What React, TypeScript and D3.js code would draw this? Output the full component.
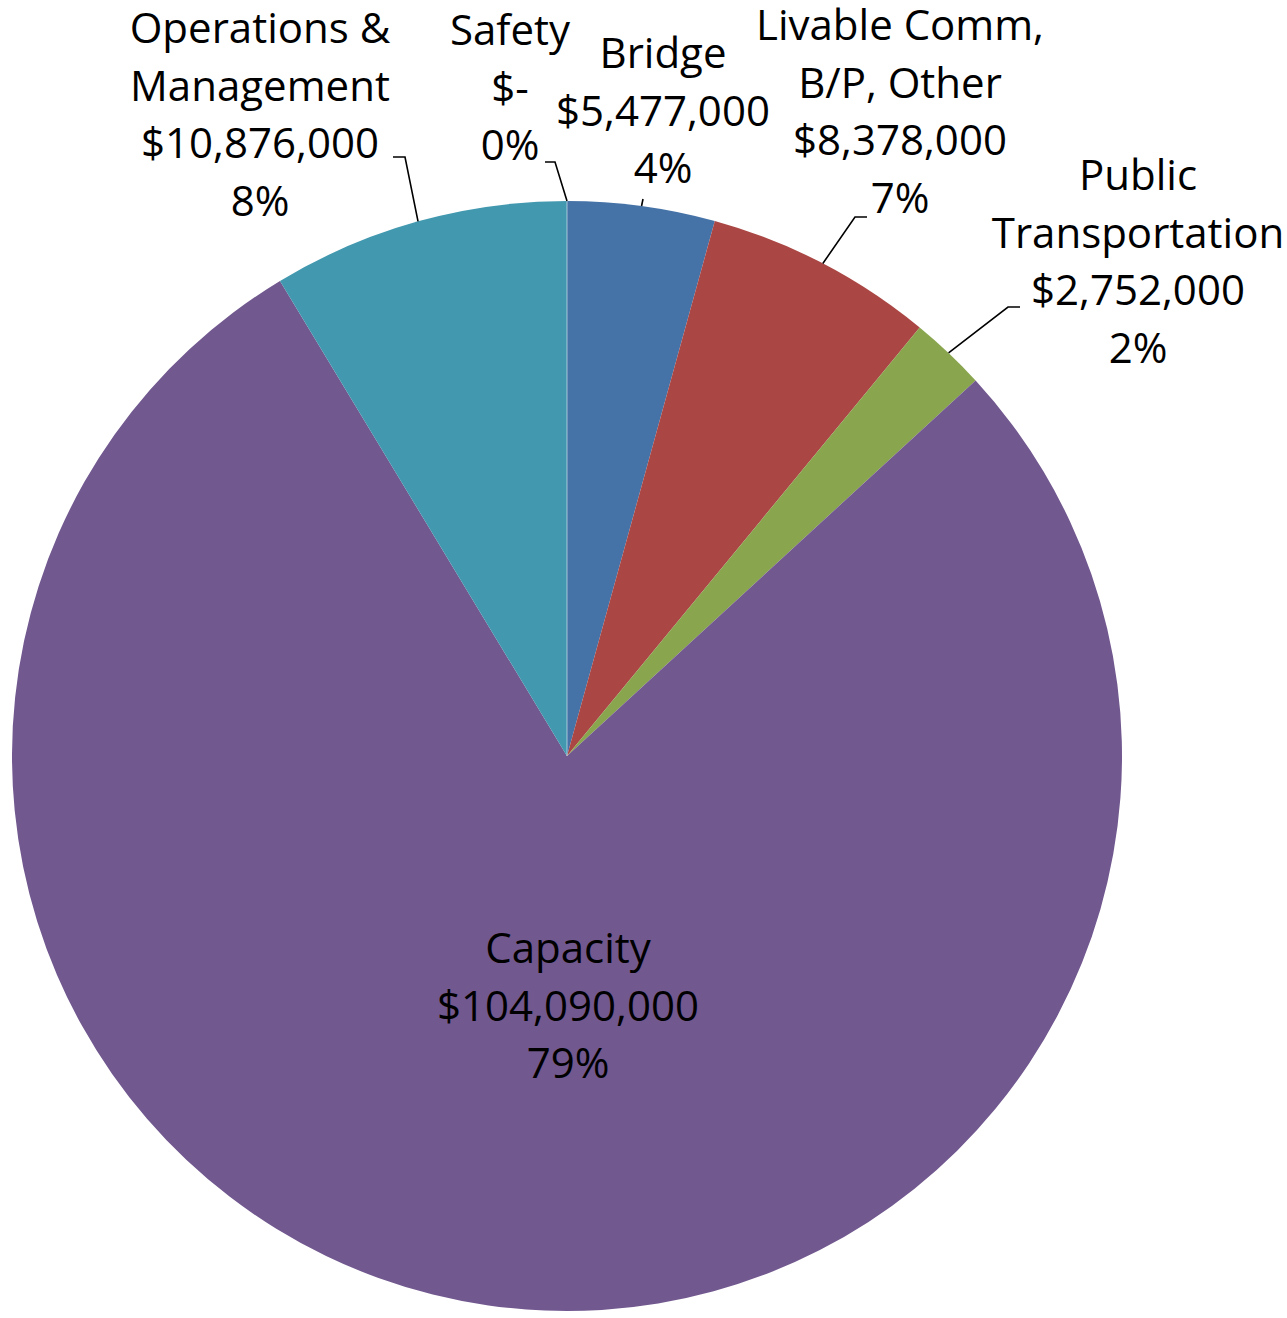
import React from "react";
import * as d3 from "d3";

// ---- data ----
const categories = [
  "Safety",
  "Bridge",
  "Livable Comm, B/P, Other",
  "Public Transportation",
  "Capacity",
  "Operations & Management",
];
const labelLines = [
  ["Safety"],
  ["Bridge"],
  ["Livable Comm,", "B/P, Other"],
  ["Public", "Transportation"],
  ["Capacity"],
  ["Operations &", "Management"],
];
const amounts = [0, 5477000, 8378000, 2752000, 104090000, 10876000];
const percentLabels = ["0%", "4%", "7%", "2%", "79%", "8%"];
// slice shares (% of circle)
const sliceShares = [0, 4.29, 6.67, 2.21, 78.18, 8.65];
const colors = ["#4F81BD", "#4572A7", "#AA4643", "#89A54E", "#71588F", "#4198AF"];

// ---- layout ----
const W = 1287;
const H = 1318;
const cx = 567;
const cy = 756;
const R = 555;
const lineH = 57.7;
const fontSize = 42;
// label anchor (center x, first baseline) and leader elbow points
const labelPos = [
  { x: 510, y: 45, leader: [[555, 162], [545, 162]] },
  { x: 663, y: 68, leader: [[643, 199]] },
  { x: 900, y: 40, leader: [[855, 217], [867, 217]] },
  { x: 1138, y: 190, leader: [[1008, 307], [1020, 307]] },
  { x: 568, y: 963, leader: null },
  { x: 260, y: 43, leader: [[405, 157], [393, 157]] },
];

const fmtMoney = (v: number) => (v === 0 ? "$-" : d3.format("$,")(v));

export default function App() {
  const items = categories.map((c, i) => ({ i, share: sliceShares[i] }));
  const pie = d3
    .pie<any>()
    .value((d) => d.share)
    .sort(null)
    .startAngle(0)
    .endAngle(2 * Math.PI);
  const arcs = pie(items);
  const arc = d3.arc<any>().innerRadius(0).outerRadius(R);

  const edgePoint = (a: any) => {
    const m = (a.startAngle + a.endAngle) / 2;
    return [cx + Math.sin(m) * R, cy - Math.cos(m) * R];
  };

  return (
    <svg
      width={W}
      height={H}
      style={{ position: "absolute", left: 0, top: 0, background: "#fff" }}
      fontFamily="'Open Sans', 'Noto Sans', sans-serif"
    >
      <g transform={`translate(${cx},${cy})`}>
        {arcs.map((a, k) =>
          a.endAngle - a.startAngle > 0 ? (
            <path key={k} d={arc(a) || ""} fill={colors[a.data.i]} />
          ) : null
        )}
        {/* zero-size Safety slice edge */}
        <line
          x1={0}
          y1={0}
          x2={Math.sin(arcs[0].startAngle) * R}
          y2={-Math.cos(arcs[0].startAngle) * R}
          stroke="#ffffff"
          strokeOpacity={0.55}
          strokeWidth={1}
        />
      </g>
      {arcs.map((a, k) => {
        const lp = labelPos[k];
        if (!lp.leader) return null;
        const pts = [edgePoint(a), ...lp.leader];
        return (
          <polyline
            key={"l" + k}
            points={pts.map((p) => p.join(",")).join(" ")}
            fill="none"
            stroke="#000"
            strokeWidth={1.6}
          />
        );
      })}
      {categories.map((c, k) => {
        const lp = labelPos[k];
        const lines = [...labelLines[k], fmtMoney(amounts[k]), percentLabels[k]];
        return (
          <text
            key={"t" + k}
            x={lp.x}
            textAnchor="middle"
            fontSize={fontSize}
            fill="#000"
          >
            {lines.map((s, j) => (
              <tspan key={j} x={lp.x} y={lp.y + j * lineH}>
                {s}
              </tspan>
            ))}
          </text>
        );
      })}
    </svg>
  );
}
